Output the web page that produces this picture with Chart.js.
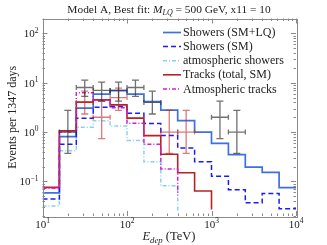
<!DOCTYPE html>
<html><head><meta charset="utf-8">
<script src="https://cdn.jsdelivr.net/npm/chart.js@4"></script>
<style>html,body{margin:0;padding:0;background:#fff}#wrap{width:327px;height:245px}</style>
</head><body><div id="wrap"><canvas id="c" width="327" height="245"></canvas></div>
<script>
// ---- data ----
const binEdges = [10, 15.85, 25.12, 39.81, 63.10, 100, 158.5, 251.2, 398.1, 631.0, 1000, 1585, 2512, 3981, 6310, 10000];
const showersLQ  = [0.059, 0.81, 3.05, 5.9, 6.9, 5.9, 4.15, 2.8, 1.71, 1.0, 0.59, 0.35, 0.196, 0.153, 0.075];
const showersSM  = [0.044, 0.57, 1.92, 3.2, 3.3, 2.4, 1.5, 0.85, 0.475, 0.25, 0.127, 0.068, 0.037, 0.057, 0.028];
const atmShowers = [0.032, 0.42, 1.26, 1.69, 1.33, 0.68, 0.25, 0.082, 0.025, null, null, null, null, null, null];
const tracksSM   = [0.076, 1.06, 4.04, 4.5, 3.56, 1.92, 0.85, 0.355, 0.15, 0.064, 0.027, null, null, null, null];
const atmTracks  = [0.073, 1.0, 6.3, 4.4, 3.1, 1.52, 0.57, 0.18, 0.052, null, null, null, null, null, null];
// observed events (per bin) with 68% intervals
const showerData     = [null, 1, 8, 7, 7, 8, 4, null, null, null, 2, 1, null, null, null];
const showerDataLow  = [null, 0.37, 5.30, 4.25, 4.25, 5.30, 2.33, null, null, null, 0.74, 0.37, null, null, null];
const showerDataHigh = [null, 2.75, 11.32, 10.30, 10.30, 11.32, 6.78, null, null, null, 4.25, 2.75, null, null, null];
const trackData      = [null, null, 4, 2, 5, null, null, 1, 1, null, null, null, null, null, null];
const trackDataLow   = [null, null, 2.33, 0.74, 2.75, null, null, 0.37, 0.37, null, null, null, null, null, null];
const trackDataHigh  = [null, null, 6.78, 4.25, 7.81, null, null, 2.75, 2.75, null, null, null, null, null, null];
const legendLabels = ['Showers (SM+LQ)', 'Showers (SM)', 'atmospheric showers', 'Tracks (total, SM)', 'Atmospheric tracks'];
const xTickExps = [1, 2, 3, 4];
const yTickExps = [-1, 0, 1, 2];

const SERIF = '"Liberation Serif", "DejaVu Serif", serif';

function histPoints(vals) {
  const pts = [];
  let last = -1;
  vals.forEach((v, i) => { if (v !== null) { pts.push({x: binEdges[i], y: v}); last = i; } });
  if (last === vals.length - 1) pts.push({x: binEdges[last + 1], y: vals[last]});
  else pts.push({x: binEdges[last + 1], y: 0});
  return pts;
}

const styles = [
  {color: '#3f6fe0', dash: [], width: 1.7, order: 3},
  {color: '#1a1aff', dash: [5, 3], width: 1.5, order: 2},
  {color: '#8ad0f5', dash: [4, 2, 1, 2], width: 1.5, order: 4},
  {color: '#b62226', dash: [], width: 1.6, order: 1},
  {color: '#d21fd2', dash: [4, 2, 1, 2], width: 1.5, order: 0},
];
const series = [showersLQ, showersSM, atmShowers, tracksSM, atmTracks];

const datasets = series.map((s, i) => ({
  label: legendLabels[i],
  data: histPoints(s),
  borderColor: styles[i].color,
  borderDash: styles[i].dash,
  borderWidth: styles[i].width,
  pointRadius: 0,
  stepped: 'before',
  fill: false,
  order: styles[i].order,
}));

const decor = {
  id: 'decor',
  afterDatasetsDraw(chart) {
    const ctx = chart.ctx, xs = chart.scales.x, ys = chart.scales.y;
    const drawErr = (counts, lo, hi, color) => {
      ctx.save();
      ctx.strokeStyle = color; ctx.lineWidth = 1.3; ctx.setLineDash([]);
      counts.forEach((n, i) => {
        if (n === null) return;
        const x0 = xs.getPixelForValue(binEdges[i]), x1 = xs.getPixelForValue(binEdges[i + 1]);
        const cx = xs.getPixelForValue(Math.sqrt(binEdges[i] * binEdges[i + 1]));
        const yc = ys.getPixelForValue(n), yl = ys.getPixelForValue(lo[i]), yh = ys.getPixelForValue(hi[i]);
        ctx.beginPath();
        ctx.moveTo(x0, yc); ctx.lineTo(x1, yc);
        ctx.moveTo(cx, yh); ctx.lineTo(cx, yl);
        ctx.moveTo(cx - 3.5, yh); ctx.lineTo(cx + 3.5, yh);
        ctx.moveTo(cx - 3.5, yl); ctx.lineTo(cx + 3.5, yl);
        ctx.moveTo(x0, yc - 2.5); ctx.lineTo(x0, yc + 2.5);
        ctx.moveTo(x1, yc - 2.5); ctx.lineTo(x1, yc + 2.5);
        ctx.stroke();
      });
      ctx.restore();
    };
    drawErr(trackData, trackDataLow, trackDataHigh, 'rgba(195,40,40,0.62)');
    drawErr(showerData, showerDataLow, showerDataHigh, 'rgba(45,45,45,0.68)');
  },
  afterDraw(chart) {
    const ctx = chart.ctx, xs = chart.scales.x, ys = chart.scales.y, a = chart.chartArea;
    ctx.save();
    // frame
    ctx.strokeStyle = '#8a8a8a'; ctx.lineWidth = 1; ctx.setLineDash([]);
    ctx.strokeRect(Math.round(a.left) + 0.5, Math.round(a.top) + 0.5, Math.round(a.right - a.left), Math.round(a.bottom - a.top));
    // ticks
    ctx.beginPath();
    for (let d = 1; d <= 4; d++) {
      for (let m = 1; m <= 9; m++) {
        const v = m * Math.pow(10, d);
        if (v < 10 || v > 10000) continue;
        const px = Math.round(xs.getPixelForValue(v)) + 0.5, L = m === 1 ? 5 : 2.5;
        ctx.moveTo(px, a.bottom); ctx.lineTo(px, a.bottom - L);
        ctx.moveTo(px, a.top); ctx.lineTo(px, a.top + L);
      }
    }
    for (let d = -2; d <= 2; d++) {
      for (let m = 1; m <= 9; m++) {
        const v = m * Math.pow(10, d);
        if (v < 0.02 - 1e-9 || v > 200 + 1e-9) continue;
        const py = Math.round(ys.getPixelForValue(v)) + 0.5, L = m === 1 ? 5 : 2.5;
        ctx.moveTo(a.left, py); ctx.lineTo(a.left + L, py);
        ctx.moveTo(a.right, py); ctx.lineTo(a.right - L, py);
      }
    }
    ctx.stroke();

    // tick labels
    ctx.fillStyle = '#222';
    const pow = (exp, x, y, align, size) => {
      const base = '10', sup = String(exp).replace('-', '\u2212');
      ctx.font = `${size}px ${SERIF}`; const wb = ctx.measureText(base).width;
      ctx.font = `${size * 0.68}px ${SERIF}`; const ws = ctx.measureText(sup).width;
      const x0 = align === 'center' ? x - (wb + ws) / 2 : x - wb - ws;
      ctx.textAlign = 'left'; ctx.textBaseline = 'alphabetic';
      ctx.font = `${size}px ${SERIF}`; ctx.fillText(base, x0, y);
      ctx.font = `${size * 0.68}px ${SERIF}`; ctx.fillText(sup, x0 + wb, y - size * 0.42);
    };
    xTickExps.forEach(e => pow(e, xs.getPixelForValue(Math.pow(10, e)), a.bottom + 12, 'center', 11));
    yTickExps.forEach(e => pow(e, a.left - 4, ys.getPixelForValue(Math.pow(10, e)) + 4, 'right', 11));

    // title
    const t1 = 'Model A, Best fit: ', tM = 'M', tLQ = 'LQ', t2 = ' = 500 GeV, x11 = 10';
    const ts = 11.4;
    ctx.font = `${ts}px ${SERIF}`; const w1 = ctx.measureText(t1).width, w2 = ctx.measureText(t2).width;
    ctx.font = `italic ${ts}px ${SERIF}`; const wM = ctx.measureText(tM).width;
    ctx.font = `italic ${ts * 0.7}px ${SERIF}`; const wLQ = ctx.measureText(tLQ).width;
    let tx = 169 - (w1 + wM + wLQ + w2) / 2, ty = 13;
    ctx.font = `${ts}px ${SERIF}`; ctx.fillText(t1, tx, ty); tx += w1;
    ctx.font = `italic ${ts}px ${SERIF}`; ctx.fillText(tM, tx, ty); tx += wM;
    ctx.font = `italic ${ts * 0.7}px ${SERIF}`; ctx.fillText(tLQ, tx, ty + 2); tx += wLQ;
    ctx.font = `${ts}px ${SERIF}`; ctx.fillText(t2, tx, ty);

    // x axis label
    const xs1 = 12.5;
    ctx.font = `italic ${xs1}px ${SERIF}`; const wE = ctx.measureText('E').width;
    ctx.font = `italic ${xs1 * 0.7}px ${SERIF}`; const wd = ctx.measureText('dep').width;
    ctx.font = `${xs1}px ${SERIF}`; const wT = ctx.measureText(' (TeV)').width;
    let lx = 169 - (wE + wd + wT) / 2, ly = 240;
    ctx.font = `italic ${xs1}px ${SERIF}`; ctx.fillText('E', lx, ly); lx += wE;
    ctx.font = `italic ${xs1 * 0.7}px ${SERIF}`; ctx.fillText('dep', lx, ly + 2.5); lx += wd;
    ctx.font = `${xs1}px ${SERIF}`; ctx.fillText(' (TeV)', lx, ly);

    // y axis label
    ctx.save();
    ctx.translate(16, (a.top + a.bottom) / 2);
    ctx.rotate(-Math.PI / 2);
    ctx.textAlign = 'center';
    ctx.font = `12px ${SERIF}`;
    ctx.fillText('Events per 1347 days', 0, 0);
    ctx.restore();

    // legend
    const lx0 = 163, lx1 = 181, ltx = 183, ly0 = 32.5, ldy = 14.1;
    const fs = 12;
    chart.data.datasets.forEach((ds, i) => {
      const y = ly0 + i * ldy;
      ctx.strokeStyle = ds.borderColor; ctx.lineWidth = ds.borderWidth; ctx.setLineDash(ds.borderDash);
      ctx.beginPath(); ctx.moveTo(lx0, y); ctx.lineTo(lx1, y); ctx.stroke();
      ctx.setLineDash([]);
      ctx.fillStyle = '#222'; ctx.textAlign = 'left'; ctx.textBaseline = 'middle';
      ctx.font = `${fs}px ${SERIF}`;
      ctx.fillText(ds.label, ltx, y + 0.5);
    });
    ctx.restore();
  }
};

new Chart(document.getElementById('c'), {
  type: 'line',
  data: {datasets},
  options: {
    responsive: false,
    animation: false,
    devicePixelRatio: 1,
    layout: {padding: {left: 42.5, right: 31, top: 18.5, bottom: 29}},
    plugins: {legend: {display: false}, tooltip: {enabled: false}, title: {display: false}},
    scales: {
      x: {type: 'logarithmic', min: 10, max: 10000, display: false},
      y: {type: 'logarithmic', min: 0.02, max: 200, display: false},
    },
  },
  plugins: [decor],
});
</script></body></html>
